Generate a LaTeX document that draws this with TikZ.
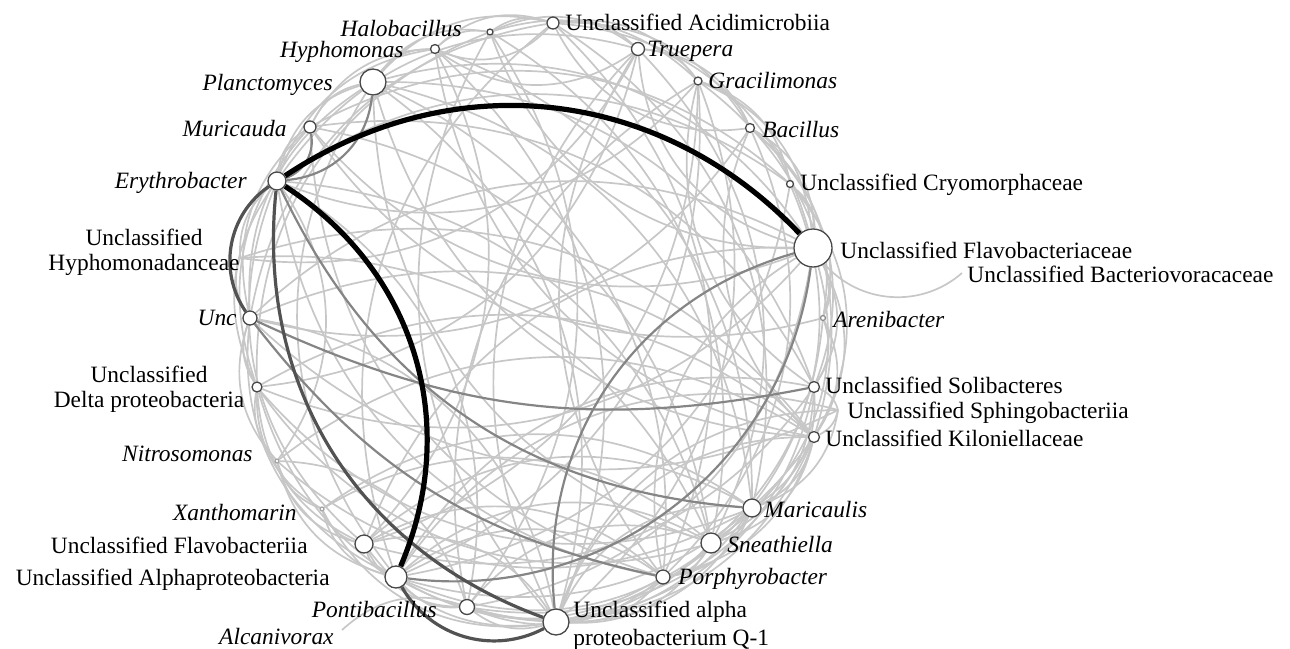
\documentclass[tikz,border=0pt]{standalone}
\usepackage{fontspec}
\setmainfont{Liberation Serif}
\usetikzlibrary{backgrounds}
\tikzset{
 nd/.style={circle, draw=black!72, fill=white, line width=0.65pt, inner sep=0pt},
 lt/.style={draw=black!22, line width=0.85pt},
 md/.style={draw=black!48, line width=1.1pt},
 dk/.style={draw=black!68, line width=1.6pt},
 bk/.style={draw=black, line width=2.6pt},
 lab/.style={inner sep=0pt, font=\fontsize{11.7}{14}\selectfont},
 itl/.style={inner sep=0pt, font=\fontsize{11.7}{14}\selectfont\itshape},
}
\begin{document}
\begin{tikzpicture}[x=0.5pt,y=0.5pt]
\useasboundingbox (0,0) rectangle (1290,-648);
% ---------- nodes ----------
\node[nd, minimum size=19pt]  (flv) at (813,-248) {};
\node[nd, minimum size=13pt]  (pla) at (373,-82) {};
\node[nd, minimum size=13pt]  (q1)  at (556,-622) {};
\node[nd, minimum size=11pt]  (alp) at (396,-577) {};
\node[nd, minimum size=10pt]  (sne) at (711,-543) {};
\node[nd, minimum size=9pt]   (fla) at (364,-544) {};
\node[nd, minimum size=9pt]   (mar) at (752,-508) {};
\node[nd, minimum size=9pt]   (ery) at (277,-181) {};
\node[nd, minimum size=7.5pt] (pon) at (467,-607) {};
\node[nd, minimum size=7pt]   (unc) at (250,-318) {};
\node[nd, minimum size=7pt]   (por) at (663,-577) {};
\node[nd, minimum size=6.5pt] (tru) at (638,-49) {};
\node[nd, minimum size=6pt]   (aci) at (553,-23) {};
\node[nd, minimum size=5.5pt] (sol) at (814,-387) {};
\node[nd, minimum size=5.5pt] (kil) at (814,-437) {};
\node[nd, minimum size=6pt]   (mur) at (310,-127) {};
\node[nd, minimum size=5pt]   (del) at (257,-387) {};
\node[nd, minimum size=4.5pt] (bac) at (750,-128) {};
\node[nd, minimum size=4.5pt] (hyp) at (435,-49) {};
\node[nd, minimum size=4pt]   (gra) at (698,-81) {};
\node[nd, minimum size=3.5pt] (cry) at (790,-184) {};
\node[nd, minimum size=3pt]   (hal) at (490,-32) {};
\node[nd, minimum size=2.5pt, draw=black!45] (are) at (823,-318) {};
\node[nd, minimum size=2pt, draw=black!35]   (xan) at (322,-509) {};
\node[nd, minimum size=2pt, draw=black!35]   (nit) at (277,-461) {};
\coordinate (hyd)  at (240,-258);
\coordinate (alc)  at (342,-630);
\coordinate (sph)  at (838,-410);
\coordinate (bac2) at (962,-273);
% ---------- edges ----------
\begin{pgfonlayer}{background}
% outer ring (clockwise neighbours)
\foreach \a/\b in {aci/tru,tru/gra,gra/bac,bac/cry,cry/flv,hal/aci,hyp/hal,pla/hyp,mur/pla,
  ery/mur,hyd/ery,unc/hyd,del/unc,nit/del,xan/nit,fla/xan,alp/fla,pon/alp,q1/pon,por/q1,
  sne/por,mar/sne,kil/mar,sph/kil,sol/sph,are/sol,flv/are}
  \draw[lt] (\a) to[bend left=25] (\b);
\foreach \a/\b in {aci/gra,tru/bac,gra/cry,bac/flv,cry/are,flv/sol,are/kil,sol/mar,kil/sne,
  mar/por,sne/q1,por/pon,pon/fla,alp/xan,fla/nit,xan/del,nit/unc,hal/tru,hyp/aci,pla/hal,
  mur/hyp,ery/pla,unc/mur,del/ery,sph/mar,kil/por,mar/q1,sne/pon,
  ery/hyp,unc/pla,del/mur,fla/del,alp/nit,q1/fla,por/alp,kil/q1,sol/sne,flv/kil,
  bac/are,gra/flv,aci/bac,hal/gra,pla/aci}
  \draw[lt] (\a) to[bend left=30] (\b);
% interior
\foreach \a/\b in {pla/flv,pla/q1,sne/pla,pla/mar,kil/pla,pla/sol,alp/pla,pla/por,
  ery/tru,gra/ery,ery/cry,ery/sne,por/ery,ery/pon,fla/ery,ery/nit,
  flv/hal,aci/flv,flv/tru,flv/mur,unc/flv,flv/del,fla/flv,flv/pon,por/flv,flv/sne,
  q1/tru,hyp/q1,q1/hal,fla/q1,q1/del,unc/q1,q1/xan,q1/kil,sol/q1,q1/mar,
  alp/sne,mar/alp,alp/por,kil/alp,alp/sol,gra/alp,alp/aci,alp/unc,
  tru/hyp,tru/sne,por/tru,tru/del,aci/hyp,bac/aci,aci/mar,unc/aci,
  gra/kil,pon/gra,gra/fla,bac/sol,bac/unc,cry/kil,mur/cry,hal/sne,del/hal,
  hyp/mar,kil/hyp,mur/sne,por/mur,mur/sol,unc/kil,del/kil,mar/del,sne/del,
  fla/mar,sol/fla,fla/por,pon/sne,mar/pon,kil/pon,q1/sph,alp/sph,nit/pon,mar/nit,
  xan/sne,hyd/sne,tru/hyd,are/mur,sol/gra,kil/bac,hal/pon,hyp/fla,gra/q1,aci/por,
  bac/por,cry/sne,nit/kil,xan/mar,cry/alp,are/q1,sph/unc,hyd/kil}
  \draw[lt] (\a) to[bend left=35] (\b);
\draw[lt] (alc) to[bend left=30] (pon);
\draw[lt] (bac2) to[bend left=45] (flv);
% medium
\draw[md] (pla) to[bend left=40] (ery);
\draw[md] (mur) to[bend left=40] (ery);
\draw[md] (mar) to[bend left=30] (ery);
\draw[md] (sol) to[bend left=18] (unc);
\draw[md] (por) to[bend left=20] (unc);
\draw[md] (q1) to[bend left=40] (flv);
\draw[md] (flv) to[bend left=45] (alp);
% dark
\draw[dk] (q1) to[bend left=38] (ery);
\draw[dk] (unc) to[bend left=45] (ery);
\draw[dk] (q1) to[bend left=44] (alp);
% black
\draw[bk] (ery) to[bend left=40] (flv);
\draw[bk] (ery) to[bend left=40] (alp);
\end{pgfonlayer}
% ---------- labels ----------
\node[itl, anchor=base east] (lhal) at (462,-36) {Halobacillus};
\node[itl, anchor=base east] (lhyp) at (404,-57) {Hyphomonas};
\node[itl, anchor=base east] (lpla) at (333,-90) {Planctomyces};
\node[itl, anchor=base east] (lmur) at (287,-136) {Muricauda};
\node[itl, anchor=base east] (lery) at (247,-188) {Erythrobacter};
\node[lab, anchor=base] (lhyd1) at (144,-245) {Unclassified};
\node[lab, anchor=base] (lhyd2) at (144,-270) {Hyphomonadanceae};
\node[itl, anchor=base east] (lunc) at (237,-325) {Unc};
\node[lab, anchor=base] (ldel1) at (149,-382) {Unclassified};
\node[lab, anchor=base] (ldel2) at (149,-407) {Delta proteobacteria};
\node[itl, anchor=base east] (lnit) at (253,-461) {Nitrosomonas};
\node[itl, anchor=base east] (lxan) at (297,-520) {Xanthomarin};
\node[lab, anchor=base east] (lfla) at (308,-553) {Unclassified Flavobacteriia};
\node[lab, anchor=base east] (lalp) at (330,-585) {Unclassified Alphaproteobacteria};
\node[itl, anchor=base east] (lpon) at (437,-617) {Pontibacillus};
\node[itl, anchor=base east] (lalc) at (334,-644) {Alcanivorax};
\node[lab, anchor=base west] (lq11) at (573,-617) {Unclassified alpha};
\node[lab, anchor=base west] (lq12) at (573,-645) {proteobacterium Q-1};
\node[itl, anchor=base west] (lpor) at (678,-584) {Porphyrobacter};
\node[itl, anchor=base west] (lsne) at (727,-552) {Sneathiella};
\node[itl, anchor=base west] (lmar) at (764,-517) {Maricaulis};
\node[lab, anchor=base west] (lkil) at (825,-446) {Unclassified Kiloniellaceae};
\node[lab, anchor=base west] (lsph) at (847,-418) {Unclassified Sphingobacteriia};
\node[lab, anchor=base west] (lsol) at (825,-393) {Unclassified Solibacteres};
\node[itl, anchor=base west] (lare) at (833,-327) {Arenibacter};
\node[lab, anchor=base west] (lbac2) at (967,-282) {Unclassified Bacteriovoracaceae};
\node[lab, anchor=base west] (lflv) at (840,-258) {Unclassified Flavobacteriaceae};
\node[lab, anchor=base west] (lcry) at (800,-190) {Unclassified Cryomorphaceae};
\node[itl, anchor=base west] (lbac) at (762,-137) {Bacillus};
\node[itl, anchor=base west] (lgra) at (708,-88) {Gracilimonas};
\node[itl, anchor=base west] (ltru) at (647,-56) {Truepera};
\node[lab, anchor=base west] (laci) at (565,-31) {Unclassified Acidimicrobiia};
\end{tikzpicture}
\end{document}
